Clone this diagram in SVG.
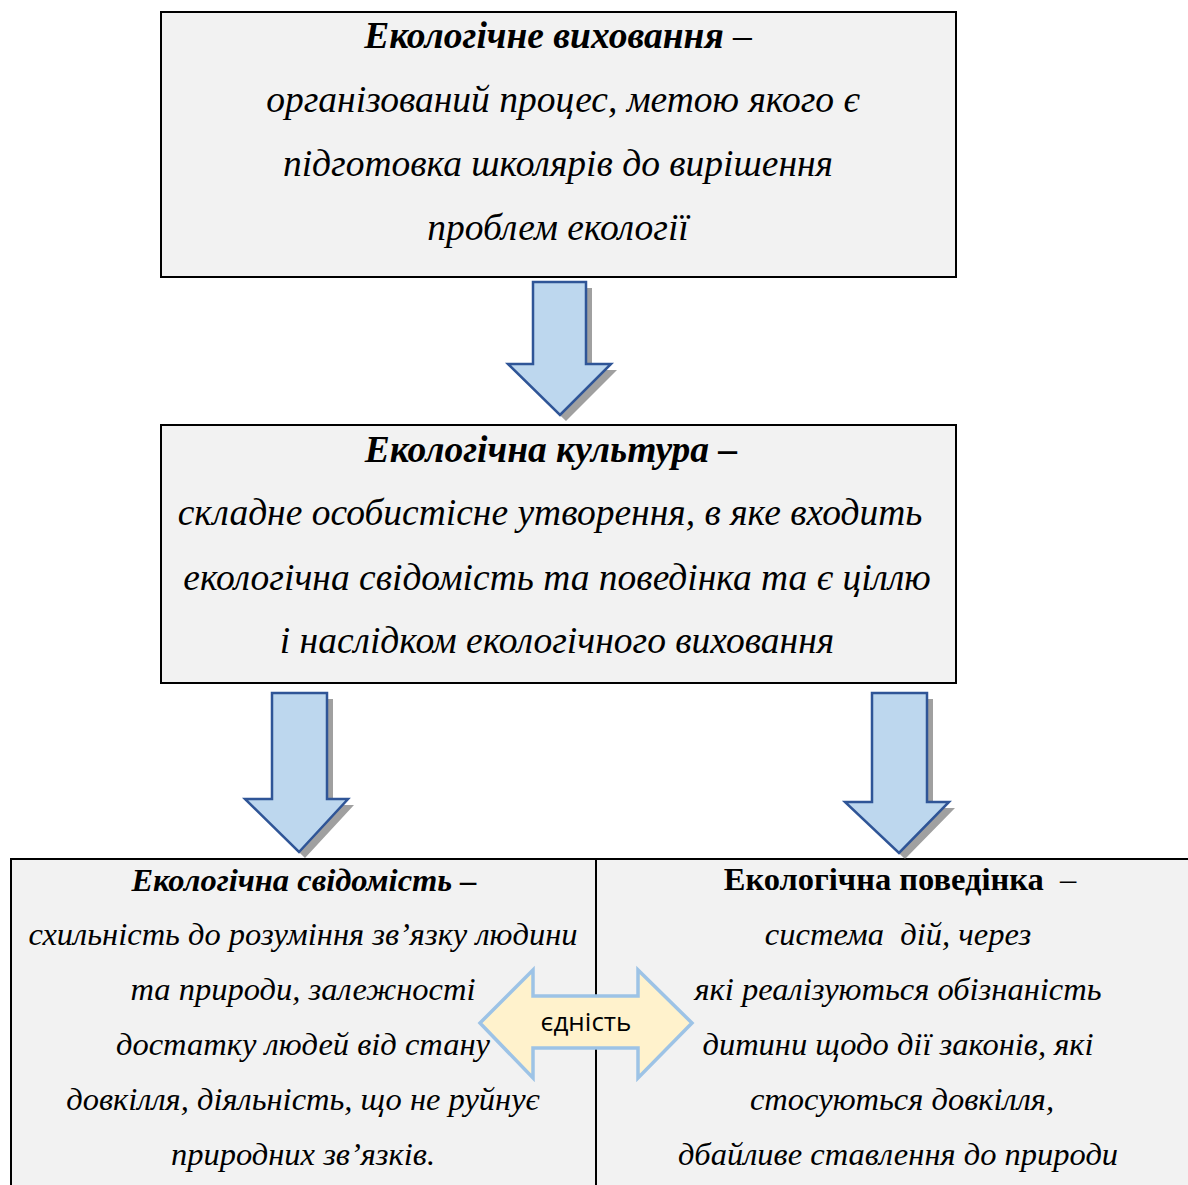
<svg xmlns="http://www.w3.org/2000/svg" width="1188" height="1185" viewBox="0 0 1188 1185">
<defs>
<style>
.box{fill:#f2f2f2;stroke:#000;stroke-width:2}
.t{font-family:"Liberation Serif","Times New Roman",serif;font-style:italic;font-size:37.5px;fill:#000;text-anchor:middle}
.s{font-size:32.5px}
.b{font-weight:bold}
.n{font-style:normal}
.arr{fill:#bdd7ee;stroke:#2f5597;stroke-width:2.5;stroke-linejoin:miter}
.sh{fill:#808080;opacity:0.75}
.dbl{fill:#fff2cc;stroke:#9dc3e6;stroke-width:3.5}
.u{font-family:"Open Sans","Noto Sans","Liberation Sans",sans-serif;font-size:26px;fill:#000;text-anchor:middle}
</style>
</defs>
<rect width="1188" height="1185" fill="#fff"/>

<g id="node-vykhovannia">
<rect class="box" x="161" y="12" width="795" height="265"/>
<text class="t b" x="558" y="48">Екологічне виховання <tspan class="n" font-weight="normal">–</tspan></text>
<text class="t" x="563" y="112">організований процес, метою якого є</text>
<text class="t" x="558" y="176">підготовка школярів до вирішення</text>
<text class="t" x="558" y="240">проблем екології</text>
</g>

<g id="node-kultura">
<rect class="box" x="161" y="425" width="795" height="258"/>
<text class="t b" x="551" y="462">Екологічна культура –</text>
<text class="t" x="550" y="525">складне особистісне утворення, в яке входить</text>
<text class="t" x="557" y="590">екологічна свідомість та поведінка та є ціллю</text>
<text class="t" x="557" y="653">і наслідком екологічного виховання</text>
</g>

<g id="node-bottom">
<rect class="box" x="11" y="859" width="585" height="340"/>
<rect class="box" x="596" y="859" width="600" height="340"/>
</g>

<g id="node-svidomist">
<text class="t s b" x="304" y="891">Екологічна свідомість –</text>
<text class="t s" x="303" y="945">схильність до розуміння зв’язку людини</text>
<text class="t s" x="303" y="1000">та природи, залежності</text>
<text class="t s" x="303" y="1055">достатку людей від стану</text>
<text class="t s" x="303" y="1110">довкілля, діяльність, що не руйнує</text>
<text class="t s" x="303" y="1165">природних зв’язків.</text>
</g>

<g id="node-povedinka">
<text class="t s b n" x="900" y="890" xml:space="preserve">Екологічна поведінка  <tspan font-weight="normal">–</tspan></text>
<text class="t s" x="898" y="945" xml:space="preserve">система  дій, через</text>
<text class="t s" x="898" y="1000">які реалізуються обізнаність</text>
<text class="t s" x="898" y="1055">дитини щодо дії законів, які</text>
<text class="t s" x="902" y="1110">стосуються довкілля,</text>
<text class="t s" x="898" y="1165">дбайливе ставлення до природи</text>
</g>

<g id="connectors">
<polygon class="sh" points="539,288 592,288 592,370 617,370 566,421 513,370 539,370"/>
<polygon class="arr" points="533,282 586,282 586,364 611,364 560,415 508,364 533,364"/>

<polygon class="sh" points="278,699 333,699 333,805 354,805 305,858 251,805 278,805"/>
<polygon class="arr" points="272,693 327,693 327,799 348,799 299,852 245,799 272,799"/>

<polygon class="sh" points="878,699 933,699 933,808 955,808 905,859 851,808 878,808"/>
<polygon class="arr" points="872,693 927,693 927,802 949,802 899,853 845,802 872,802"/>

<g id="ednist">
<polygon class="dbl" points="480,1023 533,970 533,996 638,996 638,970 692,1023 638,1078 638,1048 533,1048 533,1078"/>
<text class="u" x="586" y="1031">єдність</text>
</g>
</g>
</svg>
